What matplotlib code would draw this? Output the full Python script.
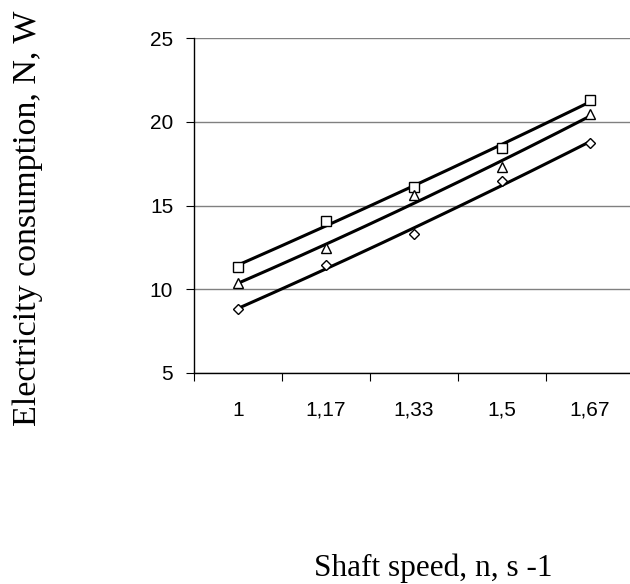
import matplotlib
matplotlib.use("Agg")
import matplotlib.pyplot as plt
import numpy as np

categories = ["1", "1,17", "1,33", "1,5", "1,67"]
series_square = [11.3, 14.1, 16.1, 18.45, 21.3]
series_triangle = [10.4, 12.45, 15.6, 17.3, 20.45]
series_diamond = [8.8, 11.45, 13.3, 16.45, 18.75]
yticks = [5, 10, 15, 20, 25]

fig = plt.figure(figsize=(6.30, 5.84), dpi=100)
W, H = 630, 584
left, right, top, bottom = 194, 634, 38, 373
ax = fig.add_axes([left / W, 1 - bottom / H, (right - left) / W, (bottom - top) / H])

x = np.arange(len(categories))
xs = np.linspace(0, len(categories) - 1, 200)
for data, marker, ms in [(series_square, "s", 7), (series_triangle, "^", 7.5), (series_diamond, "D", 5.5)]:
    coef = np.polyfit(x, data, 2)
    ax.plot(xs, np.polyval(coef, xs), color="black", lw=2.2, zorder=3)
    ax.plot(x, data, linestyle="none", marker=marker, ms=ms, mfc="white", mec="black", mew=1.0, zorder=4)

ax.set_xlim(-0.5, len(categories) - 0.5)
ax.set_ylim(5, 25)
ax.set_yticks(yticks)
ax.set_yticklabels([str(v) for v in yticks], fontsize=15, family="Liberation Sans")
ax.set_xticks(x)
ax.set_xticklabels(categories, fontsize=15, family="Liberation Sans")
ax.set_xticks(np.arange(-0.5, len(categories), 1), minor=True)
ax.tick_params(axis="x", which="major", length=0, pad=20)
ax.tick_params(axis="x", which="minor", length=6, width=0.8, direction="out")
ax.tick_params(axis="y", length=6, width=0.8, direction="out", pad=9)
ax.grid(axis="y", color="#808080", lw=1.0)
ax.set_axisbelow(True)
for s in ["top", "right"]:
    ax.spines[s].set_visible(False)
ax.spines["left"].set_linewidth(1.0)
ax.spines["bottom"].set_linewidth(1.0)

fig.text(28 / W, 1 - 218 / H, "Electricity consumption, N, W", rotation=90,
         ha="center", va="center", fontsize=24.5, family="Liberation Serif")
fig.text(433 / W, 1 - 576 / H, "Shaft speed, n, s -1", ha="center", va="baseline",
         fontsize=22.5, family="Liberation Serif")

fig.savefig("out.png", dpi=100)
